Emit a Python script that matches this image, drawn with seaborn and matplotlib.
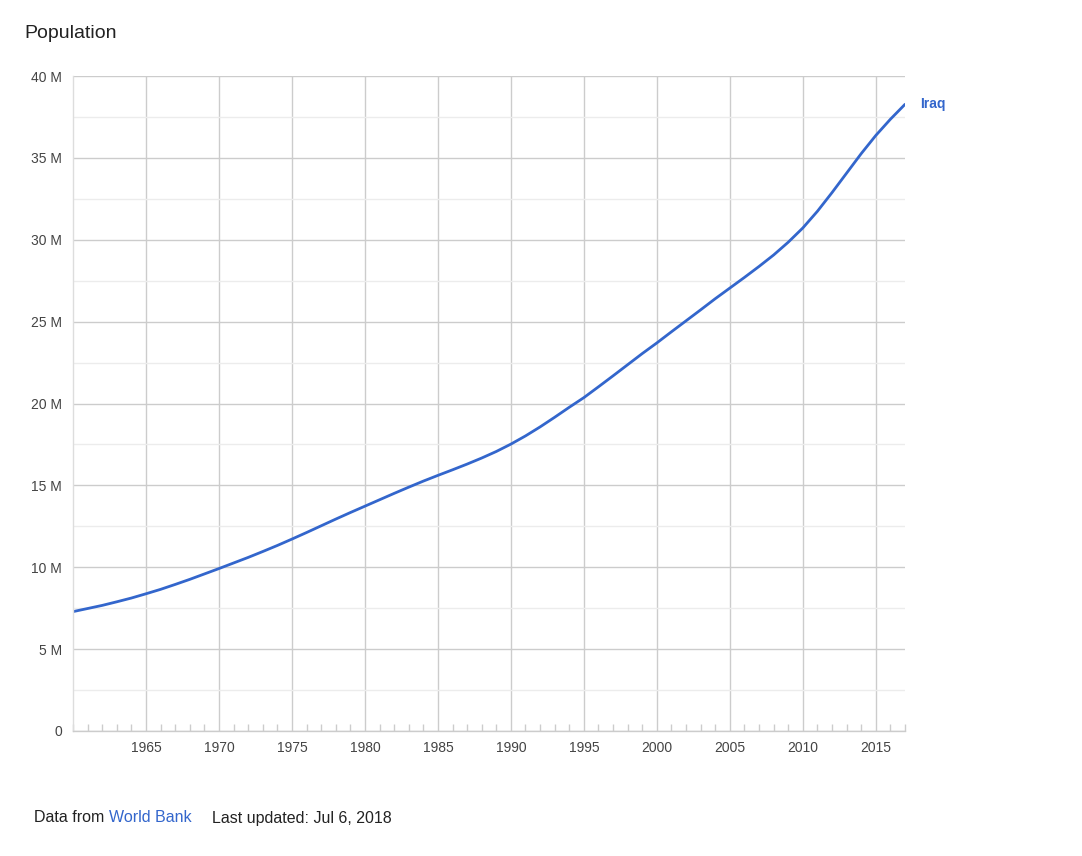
import numpy as np
import pandas as pd
import matplotlib
matplotlib.use("Agg")
import matplotlib.pyplot as plt
import seaborn as sns
from matplotlib.ticker import MultipleLocator, FuncFormatter

# ---- data (millions) ----
years = list(range(1960, 2018))
population_m = [
    7.29, 7.48, 7.67, 7.89, 8.12, 8.38, 8.65, 8.95, 9.26, 9.59,
    9.92, 10.26, 10.60, 10.96, 11.33, 11.72, 12.12, 12.53, 12.94, 13.34,
    13.73, 14.12, 14.51, 14.89, 15.26, 15.61, 15.95, 16.30, 16.67, 17.07,
    17.52, 18.02, 18.57, 19.16, 19.77, 20.36, 21.02, 21.69, 22.37, 23.05,
    23.70, 24.38, 25.05, 25.72, 26.40, 27.05, 27.70, 28.37, 29.07, 29.85,
    30.72, 31.74, 32.88, 34.07, 35.26, 36.37, 37.36, 38.27,
]
country = "Iraq"
x_ticks = [1965, 1970, 1975, 1980, 1985, 1990, 1995, 2000, 2005, 2010, 2015]
y_ticks = [0, 5, 10, 15, 20, 25, 30, 35, 40]

df = pd.DataFrame({"year": years, "pop": population_m})

sns.set_theme(style="white")
plt.rcParams["font.family"] = ["Liberation Sans", "DejaVu Sans"]

BLUE = "#3366cc"
W, H = 1082, 856
fig = plt.figure(figsize=(W / 100, H / 100), dpi=100)
ax = fig.add_axes([73 / W, 1 - 731 / H, (905 - 73) / W, (731 - 76) / H])

sns.lineplot(data=df, x="year", y="pop", ax=ax, color=BLUE, linewidth=2.0)

ax.set_xlim(1960, 2017)
ax.set_ylim(0, 40)
ax.set_xticks(x_ticks)
ax.set_yticks(y_ticks)
ax.yaxis.set_minor_locator(MultipleLocator(2.5))
ax.xaxis.set_minor_locator(MultipleLocator(1))
ax.yaxis.set_major_formatter(FuncFormatter(lambda v, p: "0" if v == 0 else f"{int(v)} M"))

ax.grid(True, which="major", axis="both", color="#cccccc", linewidth=1.0)
ax.grid(True, which="minor", axis="y", color="#ececec", linewidth=1.0)
ax.set_axisbelow(True)

for s in ["top", "right"]:
    ax.spines[s].set_visible(False)
ax.spines["left"].set_color("#dddddd")
ax.spines["left"].set_linewidth(1.0)
ax.spines["bottom"].set_color("#cccccc")
ax.spines["bottom"].set_linewidth(1.0)

ax.tick_params(axis="both", which="major", length=0, labelsize=10, colors="#444444")
ax.tick_params(axis="x", which="major", pad=7.5)
ax.tick_params(axis="y", which="major", pad=8)
ax.tick_params(axis="x", which="minor", bottom=True, direction="in", length=5,
               width=1, color="#cccccc")
ax.tick_params(axis="y", which="minor", length=0)
ax.set_xlabel("")
ax.set_ylabel("")

# series label at line end
ax.annotate(country, xy=(years[-1], population_m[-1]), xytext=(11, 0),
            textcoords="offset points", color=BLUE, fontsize=10,
            fontweight="bold", va="center", ha="left", annotation_clip=False)

fig.text(24 / W, 1 - 33 / H, "Population", fontsize=14, color="#222222",
         ha="left", va="center")

t1 = fig.text(34 / W, 1 - 818 / H, "Data from ", fontsize=11.5,
              color="#222222", ha="left", va="center")
a2 = fig.add_artist(plt.Annotation("World Bank", xy=(1, 0.5), xycoords=t1,
                                   va="center", ha="left", fontsize=11.5, color=BLUE))
a3 = fig.add_artist(plt.Annotation("Last updated: Jul 6, 2018", xy=(1, 0.5), xycoords=a2,
                                   xytext=(15, 0), textcoords="offset points",
                                   va="center", ha="left", fontsize=11.5, color="#222222"))

fig.savefig("out.png", dpi=100)
